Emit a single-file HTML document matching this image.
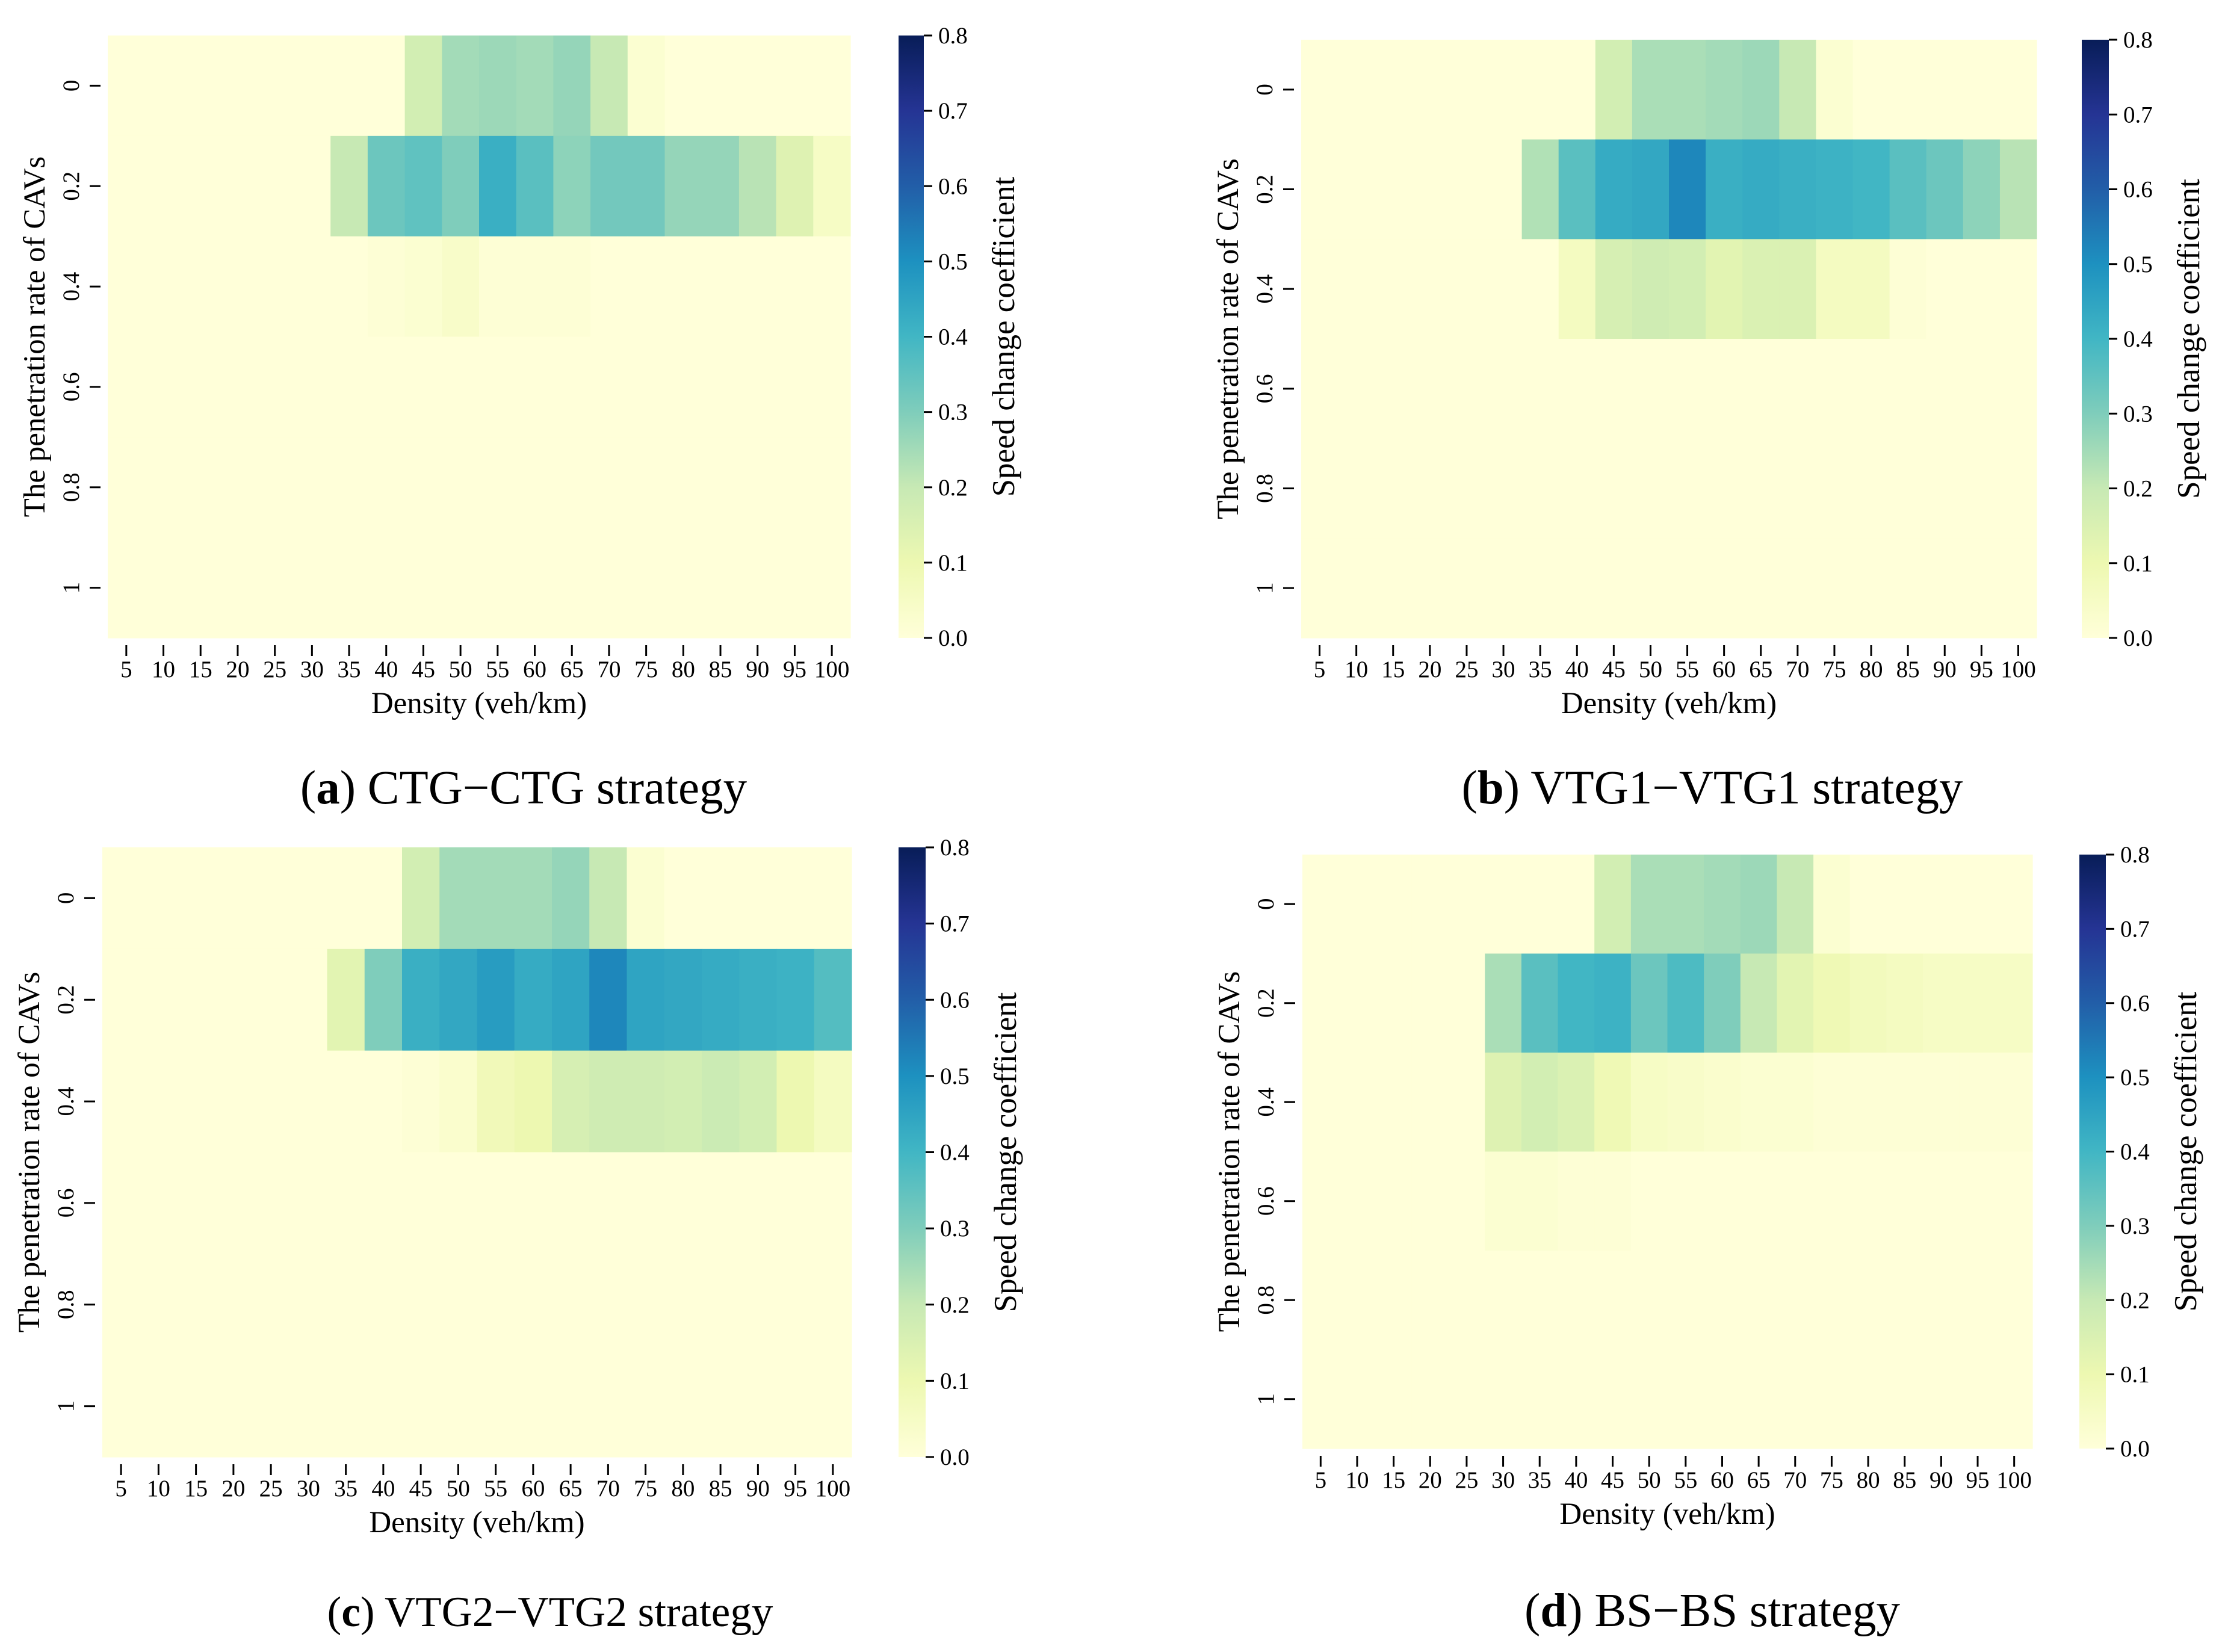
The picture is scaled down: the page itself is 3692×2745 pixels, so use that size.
<!DOCTYPE html>
<html><head><meta charset="utf-8"><style>
html,body{margin:0;padding:0;background:#fff;}
svg{display:block;font-family:"Liberation Serif",serif;}
</style></head><body>
<svg id="fig" width="3692" height="2745" viewBox="0 0 3692 2745" xmlns="http://www.w3.org/2000/svg">
<defs>
<linearGradient id="ylgnbu" x1="0" y1="1" x2="0" y2="0">
<stop offset="0" stop-color="#ffffd9"/><stop offset="0.125" stop-color="#edf8b1"/><stop offset="0.25" stop-color="#c7e9b4"/><stop offset="0.375" stop-color="#7fcdbb"/><stop offset="0.5" stop-color="#41b6c4"/><stop offset="0.625" stop-color="#1d91c0"/><stop offset="0.75" stop-color="#225ea8"/><stop offset="0.875" stop-color="#253494"/><stop offset="1" stop-color="#081d58"/>
</linearGradient>
</defs>
</svg>
<script>
const densities = [5,10,15,20,25,30,35,40,45,50,55,60,65,70,75,80,85,90,95,100];
const rates = ["0","0.2","0.4","0.6","0.8","1"];
const cbTicks = ["0.0","0.1","0.2","0.3","0.4","0.5","0.6","0.7","0.8"];
const captionsBold = ["a","b","c","d"];
const captionsText = [" CTG\u2212CTG strategy"," VTG1\u2212VTG1 strategy"," VTG2\u2212VTG2 strategy"," BS\u2212BS strategy"];
const z = new Array(20).fill(0);
const aRow0 = [0,0,0,0,0,0,0,0,0.17,0.25,0.26,0.25,0.27,0.2,0.02,0,0,0,0,0];
const aRow1 = [0,0,0,0,0,0,0.2,0.33,0.35,0.3,0.42,0.36,0.28,0.32,0.32,0.27,0.27,0.22,0.14,0.05];
const aRow2 = [0,0,0,0,0,0,0,0.01,0.02,0.04,0.01,0.01,0.01,0,0,0,0,0,0,0];
const bRow0 = [0,0,0,0,0,0,0,0,0.17,0.24,0.24,0.25,0.26,0.2,0.02,0,0,0,0,0];
const bRow1 = [0,0,0,0,0,0,0.23,0.36,0.43,0.44,0.52,0.42,0.43,0.42,0.41,0.4,0.36,0.33,0.28,0.22];
const bRow2 = [0,0,0,0,0,0,0,0.06,0.16,0.18,0.17,0.13,0.15,0.15,0.06,0.06,0.01,0,0,0];
const cRow0 = [0,0,0,0,0,0,0,0,0.17,0.25,0.25,0.25,0.27,0.2,0.02,0,0,0,0,0];
const cRow1 = [0,0,0,0,0,0,0.13,0.3,0.42,0.44,0.47,0.43,0.45,0.52,0.45,0.44,0.43,0.42,0.41,0.37];
const cRow2 = [0,0,0,0,0,0,0,0,0.01,0.03,0.08,0.1,0.16,0.18,0.18,0.17,0.19,0.17,0.1,0.06];
const dRow0 = [0,0,0,0,0,0,0,0,0.17,0.24,0.24,0.25,0.26,0.2,0.02,0,0,0,0,0];
const dRow1 = [0,0,0,0,0,0.24,0.36,0.4,0.41,0.33,0.38,0.3,0.2,0.13,0.09,0.07,0.06,0.05,0.05,0.05];
const dRow2 = [0,0,0,0,0,0.14,0.17,0.15,0.09,0.05,0.04,0.03,0.02,0.02,0.01,0.01,0.01,0.01,0.01,0.01];
const dRow3 = [0,0,0,0,0,0.02,0.02,0.01,0.01,0,0,0,0,0,0,0,0,0,0,0];
const panelData = [
 [aRow0,aRow1,aRow2,z,z,z],
 [bRow0,bRow1,bRow2,z,z,z],
 [cRow0,cRow1,cRow2,z,z,z],
 [dRow0,dRow1,dRow2,dRow3,z,z]
];
const layouts = [
 {x0:179,x1:1413,y0:59,y1:1060,cx:1493,cw:42,cap:1335,capx:870,capfs:79},
 {x0:2162,x1:3384,y0:66,y1:1060,cx:3459,cw:45,cap:1335,capx:2845,capfs:79},
 {x0:170,x1:1415,y0:1408,y1:2421,cx:1493,cw:45,cap:2702,capx:914,capfs:71},
 {x0:2164,x1:3377,y0:1420,y1:2407,cx:3455,cw:44,cap:2702,capx:2845,capfs:79}
];
const stops = ["#ffffd9","#edf8b1","#c7e9b4","#7fcdbb","#41b6c4","#1d91c0","#225ea8","#253494","#081d58"];
function hex(c){return [1,3,5].map(i=>parseInt(c.substr(i,2),16));}
function cmap(v){
  let t=Math.max(0,Math.min(1,v/0.8))*(stops.length-1);
  let i=Math.min(stops.length-2,Math.floor(t)),f=t-i;
  let a=hex(stops[i]),b=hex(stops[i+1]);
  return 'rgb('+a.map((x,k)=>Math.round(x+(b[k]-x)*f)).join(',')+')';
}
const NS="http://www.w3.org/2000/svg";
const svg=document.getElementById('fig');
function mk(tag,attrs,parent,text){
  const e=document.createElementNS(NS,tag);
  for(const k in attrs)e.setAttribute(k,attrs[k]);
  if(text!==undefined)e.textContent=text;
  parent.appendChild(e);return e;
}
layouts.forEach((L,p)=>{
  const g=mk('g',{},svg);
  
  
  const cw=(L.x1-L.x0)/densities.length, rh=(L.y1-L.y0)/rates.length;
  const xs=i=>L.x0+i*cw, ys=j=>L.y0+j*rh;
  const data=panelData[p];
  data.forEach((row,j)=>row.forEach((v,i)=>{
    const r=mk('rect',{x:xs(i),y:ys(j),width:cw+0.6,height:rh+0.6,fill:cmap(v)},g);
    
    
  }));
  densities.forEach((d,i)=>{
    const cx=xs(i)+cw/2;
    mk('line',{x1:cx,x2:cx,y1:L.y1+12,y2:L.y1+30,stroke:'#000','stroke-width':3},g);
    const t=mk('text',{x:cx,y:L.y1+65,'font-size':39,'text-anchor':'middle'},g,String(d));
    
    
  });
  const xl=mk('text',{x:(L.x0+L.x1)/2,y:L.y1+125,'font-size':51,'text-anchor':'middle'},g,'Density (veh/km)');
  
  
  rates.forEach((r,j)=>{
    const cy=ys(j)+rh/2;
    mk('line',{x1:L.x0-30,x2:L.x0-12,y1:cy,y2:cy,stroke:'#000','stroke-width':3},g);
    const t=mk('text',{x:0,y:0,'font-size':39,'text-anchor':'middle',transform:'translate('+(L.x0-48)+','+cy+') rotate(-90)'},g,r);
    
    
  });
  const yl=mk('text',{x:0,y:0,'font-size':51,'text-anchor':'middle',transform:'translate('+(L.x0-105)+','+((L.y0+L.y1)/2)+') rotate(-90)'},g,'The penetration rate of CAVs');
  
  
  const cb=mk('rect',{x:L.cx,y:L.y0,width:L.cw,height:L.y1-L.y0,fill:'url(#ylgnbu)'},g);
  
  
  cbTicks.forEach((t,k)=>{
    const cy=L.y1-(L.y1-L.y0)*k/(cbTicks.length-1);
    mk('line',{x1:L.cx+L.cw,x2:L.cx+L.cw+14,y1:cy,y2:cy,stroke:'#000','stroke-width':3},g);
    const tt=mk('text',{x:L.cx+L.cw+24,y:cy+13,'font-size':39},g,t);
    
    
  });
  const cl=mk('text',{x:0,y:0,'font-size':53,'text-anchor':'middle',transform:'translate('+(L.cx+L.cw+150)+','+((L.y0+L.y1)/2)+') rotate(-90)'},g,'Speed change coefficient');
  
  
  const cap=mk('text',{x:L.capx,y:L.cap,'font-size':L.capfs,'text-anchor':'middle'},g);
  
  
  mk('tspan',{},cap,'(');
  mk('tspan',{'font-weight':'bold'},cap,captionsBold[p]);
  mk('tspan',{},cap,')'+captionsText[p]);
});
</script>
</body></html>
